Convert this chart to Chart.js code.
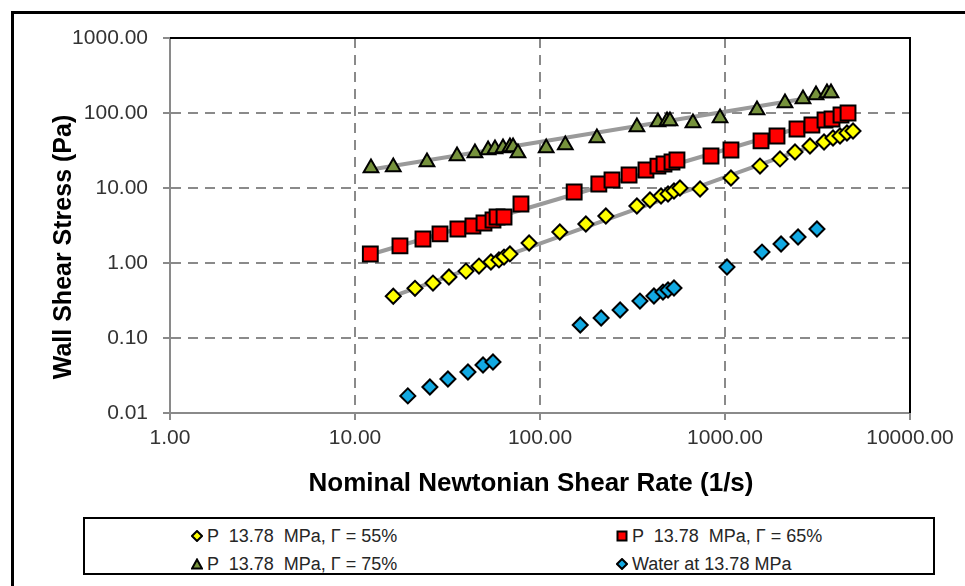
<!DOCTYPE html>
<html>
<head>
  <meta charset="UTF-8">
  <title>Wall Shear Stress vs Shear Rate</title>
  <script src="https://cdn.jsdelivr.net/npm/chart.js"></script>
  <style>
    body { margin: 0; width: 965px; height: 586px; overflow: hidden; background: #fff; font-family: 'Liberation Sans', Arial, sans-serif; }
    #frame { position: absolute; left: 11px; top: 11px; width: 1000px; height: 1000px; border: 3px solid #000; box-sizing: border-box; }
    #wrap { position: absolute; left: 0; top: 0; width: 965px; height: 586px; }
    #legend { position: absolute; left: 83px; top: 517px; width: 852px; height: 58px; border: 2px solid #000; box-sizing: border-box; background: #fff; }
    .item { position: absolute; font-size: 18px; color: #262626; white-space: pre; line-height: 20px; }
    .item svg { position: absolute; left: -16px; top: 4px; }
  </style>
</head>
<body>
  <div id="frame"></div>
  <div id="wrap"><canvas id="chart" width="965" height="586"></canvas></div>
  <div id="legend"></div>

  <script>
    // Gamma = 55 %
    const g55X = [16.1, 21.1, 26.4, 32.2, 39.8, 46.8, 54.3, 60.0, 63.9, 68.8, 87.3, 128, 177, 227, 334, 393, 451, 492, 530, 571, 733, 1077, 1546, 1983, 2390, 2880, 3430, 3836, 4185, 4564, 4920];
    const g55Y = [0.36, 0.46, 0.54, 0.65, 0.78, 0.91, 1.03, 1.10, 1.20, 1.32, 1.85, 2.59, 3.31, 4.23, 5.75, 6.92, 7.82, 8.32, 9.12, 10.0, 9.70, 13.6, 19.6, 24.4, 30.2, 36.3, 41.1, 46.4, 49.4, 54.1, 57.5];
    // Gamma = 65 %
    const g65X = [12.1, 17.5, 23.3, 28.8, 36.0, 43.4, 49.8, 55.7, 58.6, 63.9, 78.9, 153, 208, 245, 303, 374, 434, 468, 517, 550, 840, 1077, 1566, 1910, 2450, 2950, 3472, 3788, 4237, 4624];
    const g65Y = [1.32, 1.69, 2.09, 2.44, 2.84, 3.11, 3.41, 3.74, 4.10, 4.10, 6.12, 8.84, 11.3, 12.8, 14.9, 17.4, 19.6, 20.9, 22.2, 23.6, 26.7, 32.1, 42.4, 49.4, 61.2, 69.2, 80.7, 83.2, 94.0, 100];
    // Gamma = 75 %
    const g75X = [12.2, 16.1, 24.5, 35.6, 44.5, 52.4, 57.1, 63.1, 68.8, 71.5, 76.0, 108, 137, 203, 334, 434, 486, 504, 671, 940, 1489, 2110, 2640, 3104, 3558, 3741];
    const g75Y = [18.5, 19.1, 22.2, 26.7, 29.3, 32.1, 33.1, 34.1, 35.2, 35.2, 29.3, 34.1, 37.5, 46.4, 65.1, 75.9, 78.3, 78.3, 73.6, 85.8, 110, 136, 154, 174, 185, 185];
    // Water
    const waterX = [19.3, 25.4, 31.8, 40.8, 49.2, 55.7, 165, 214, 271, 347, 413, 462, 492, 530, 1025, 1585, 2009, 2482, 3141];
    const waterY = [0.0169, 0.0222, 0.0284, 0.0352, 0.0437, 0.0479, 0.149, 0.185, 0.236, 0.311, 0.363, 0.410, 0.437, 0.464, 0.885, 1.40, 1.79, 2.22, 2.84];

    // power-law trend lines (end points)
    const trend55X = [16, 4900], trend55Y = [0.36, 57];
    const trend65X = [11.5, 4700], trend65Y = [1.25, 100];
    const trend75X = [12, 3700], trend75Y = [17.5, 176];

    const xTicks = [1, 10, 100, 1000, 10000];
    const yTicks = [0.01, 0.1, 1, 10, 100, 1000];
    const xTitle = 'Nominal Newtonian Shear Rate (1/s)';
    const yTitle = 'Wall Shear Stress (Pa)';
    const legendLabels = ['P  13.78  MPa, \u0393 = 55%', 'P  13.78  MPa, \u0393 = 65%', 'P  13.78  MPa, \u0393 = 75%', 'Water at 13.78 MPa'];

    const pts = (xs, ys) => xs.map((x, i) => ({ x: x, y: ys[i] }));

    const series = [
      { label: legendLabels[0], data: pts(g55X, g55Y), pointStyle: 'rectRot', pointRadius: 7.5, backgroundColor: '#ffff00' },
      { label: legendLabels[1], data: pts(g65X, g65Y), pointStyle: 'rect', pointRadius: 10.5, backgroundColor: '#ff0000' },
      { label: legendLabels[2], data: pts(g75X, g75Y), pointStyle: 'triangle', pointRadius: 8.5, backgroundColor: '#76923c' },
      { label: legendLabels[3], data: pts(waterX, waterY), pointStyle: 'rectRot', pointRadius: 7.5, backgroundColor: '#12a9e2' }
    ].map(s => Object.assign(s, { borderColor: '#000', borderWidth: 2, pointBorderWidth: 2, showLine: false, order: 1 }));

    const trends = [[trend55X, trend55Y], [trend65X, trend65Y], [trend75X, trend75Y]].map(t => ({
      label: 'trend',
      data: pts(t[0], t[1]),
      showLine: true,
      borderColor: '#9a9a9a',
      borderWidth: 4,
      pointRadius: 0,
      order: 5
    }));

    const frameAndTitles = {
      id: 'frameAndTitles',
      afterDraw(chart) {
        const { ctx, chartArea: a } = chart;
        ctx.save();
        ctx.strokeStyle = '#000';
        ctx.lineWidth = 2;
        ctx.beginPath();
        ctx.moveTo(a.left, a.top);
        ctx.lineTo(a.right, a.top);
        ctx.lineTo(a.right, a.bottom);
        ctx.stroke();
        ctx.fillStyle = '#000';
        ctx.textAlign = 'center';
        ctx.textBaseline = 'middle';
        ctx.font = 'bold 26px "Liberation Sans", Arial, sans-serif';
        ctx.fillText(xTitle, 531, 484);
        ctx.font = 'bold 25px "Liberation Sans", Arial, sans-serif';
        ctx.translate(64, 247);
        ctx.rotate(-Math.PI / 2);
        ctx.fillText(yTitle, 0, 0);
        ctx.restore();
      }
    };

    const tickFont = { family: '"Liberation Sans", Arial, sans-serif', size: 21 };
    const gridCfg = { color: '#8a8a8a', lineWidth: 2, tickLength: 7, tickColor: '#8a8a8a', tickWidth: 2 };

    new Chart(document.getElementById('chart'), {
      type: 'scatter',
      data: { datasets: series.concat(trends) },
      options: {
        responsive: false,
        animation: false,
        layout: { padding: { left: 12, top: 38, right: 55, bottom: 0 } },
        plugins: { legend: { display: false }, tooltip: { enabled: false } },
        scales: {
          x: {
            type: 'logarithmic',
            min: 1, max: 10000,
            afterBuildTicks: s => { s.ticks = xTicks.map(v => ({ value: v })); },
            afterFit: s => { s.height = 173; },
            ticks: { font: tickFont, color: '#333', padding: 6, maxRotation: 0, callback: v => Number(v).toFixed(2) },
            grid: gridCfg,
            border: { color: '#8a8a8a', width: 2, dash: [10, 7] }
          },
          y: {
            type: 'logarithmic',
            min: 0.01, max: 1000,
            afterBuildTicks: s => { s.ticks = yTicks.map(v => ({ value: v })); },
            afterFit: s => { s.width = 158; },
            ticks: { font: tickFont, color: '#333', padding: 15, callback: v => Number(v).toFixed(2) },
            grid: gridCfg,
            border: { color: '#8a8a8a', width: 2, dash: [10, 7] }
          }
        }
      },
      plugins: [frameAndTitles]
    });

    // html legend built from the datasets
    const legendPos = [[122, 17], [547, 17], [122, 45], [547, 45]];
    const markerSvg = [
      '<svg width="12" height="12"><polygon points="6,1 11,6 6,11 1,6" fill="#ffff00" stroke="#000" stroke-width="2"/></svg>',
      '<svg width="12" height="12"><rect x="1.5" y="1.5" width="9" height="9" fill="#ff0000" stroke="#000" stroke-width="2"/></svg>',
      '<svg width="12" height="12"><polygon points="6,1.5 11,10.5 1,10.5" fill="#76923c" stroke="#000" stroke-width="2"/></svg>',
      '<svg width="12" height="12"><polygon points="6,1 11,6 6,11 1,6" fill="#12a9e2" stroke="#000" stroke-width="2"/></svg>'
    ];
    const legendEl = document.getElementById('legend');
    series.forEach((s, i) => {
      const d = document.createElement('div');
      d.className = 'item';
      d.style.left = legendPos[i][0] + 'px';
      d.style.top = (legendPos[i][1] - 10) + 'px';
      d.innerHTML = markerSvg[i];
      d.appendChild(document.createTextNode(s.label));
      legendEl.appendChild(d);
    });
  </script>
</body>
</html>
